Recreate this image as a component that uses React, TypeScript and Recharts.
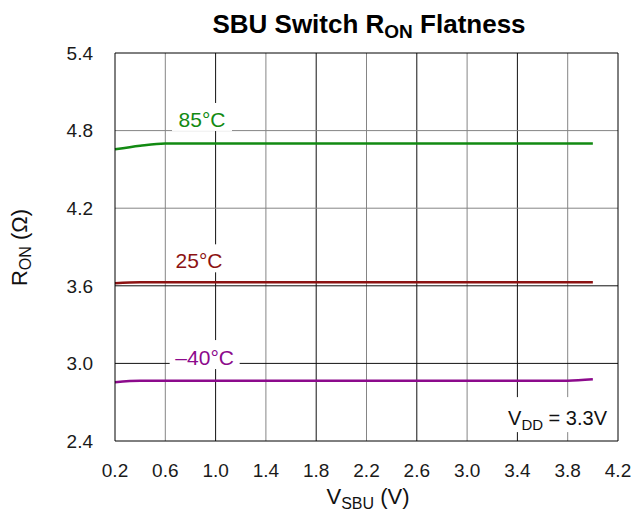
import React from 'react';
import { LineChart, Line, XAxis, YAxis, ReferenceLine, ReferenceDot } from 'recharts';

const V_SBU = [0.2, 0.4, 0.6, 0.8, 1.0, 1.2, 1.4, 1.6, 1.8, 2.0, 2.2, 2.4, 2.6, 2.8, 3.0, 3.2, 3.4, 3.6, 3.8, 4.0];
const RON_85C = [4.655, 4.683, 4.7, 4.7, 4.7, 4.7, 4.7, 4.7, 4.7, 4.7, 4.7, 4.7, 4.7, 4.7, 4.7, 4.7, 4.7, 4.7, 4.7, 4.7];
const RON_25C = [3.62, 3.628, 3.628, 3.628, 3.628, 3.628, 3.628, 3.628, 3.628, 3.628, 3.628, 3.628, 3.628, 3.628, 3.628, 3.628, 3.628, 3.628, 3.628, 3.628];
const RON_M40C = [2.855, 2.865, 2.865, 2.865, 2.865, 2.865, 2.865, 2.865, 2.865, 2.865, 2.865, 2.865, 2.865, 2.865, 2.865, 2.865, 2.865, 2.865, 2.866, 2.877];

const X_TICKS = [0.2, 0.6, 1.0, 1.4, 1.8, 2.2, 2.6, 3.0, 3.4, 3.8, 4.2];
const Y_TICKS = [2.4, 3.0, 3.6, 4.2, 4.8, 5.4];

const data = V_SBU.map((v, i) => ({ v, t85: RON_85C[i], t25: RON_25C[i], tm40: RON_M40C[i] }));

const FONT = '"Liberation Sans", Arial, sans-serif';
const GREEN = '#128a12';
const RED = '#8c1212';
const PURPLE = '#8c0a8c';
const GRID_DARK = '#111';
const GRID_LIGHT = '#858585';

// label with a white box behind it, so the grid is cut out like in the original
const tag = (label: React.ReactNode, color: string, halfW: number, top: number, bottom: number, fs: number) =>
  (p: any) => (
    <g>
      <rect x={p.cx - halfW} y={p.cy - top} width={halfW * 2} height={top + bottom} fill="#fff" />
      <text x={p.cx} y={p.cy + fs * 0.36} textAnchor="middle" fontSize={fs} fill={color} fontFamily={FONT}>
        {label}
      </text>
    </g>
  );

export default function App() {
  const tickStyle = { fontSize: 19, fill: '#1a1a1a', fontFamily: FONT };
  return (
    <div style={{ position: 'absolute', left: 0, top: 0, width: 635, height: 514, background: '#fff' }}>
      <LineChart width={635} height={514} data={data} margin={{ top: 53, right: 17, left: 0, bottom: 0 }}>
        <XAxis
          dataKey="v"
          type="number"
          domain={[0.2, 4.2]}
          ticks={X_TICKS}
          interval={0}
          tickFormatter={(v: number) => v.toFixed(1)}
          tick={tickStyle}
          tickLine={false}
          tickSize={0}
          tickMargin={23}
          axisLine={{ stroke: '#000', strokeWidth: 1 }}
          height={73}
        />
        <YAxis
          type="number"
          domain={[2.4, 5.4]}
          ticks={Y_TICKS}
          interval={0}
          tickFormatter={(v: number) => v.toFixed(1)}
          tick={tickStyle}
          tickLine={false}
          tickSize={0}
          tickMargin={22}
          axisLine={{ stroke: '#000', strokeWidth: 1 }}
          width={115}
        />
        {X_TICKS.slice(1, -1).map((x, i) => (
          <ReferenceLine key={'vx' + x} x={x} stroke={i % 2 === 0 ? GRID_LIGHT : GRID_DARK} strokeWidth={1} />
        ))}
        {Y_TICKS.slice(1, -1).map((y) => (
          <ReferenceLine key={'hy' + y} y={y} stroke={y > 4 ? GRID_LIGHT : GRID_DARK} strokeWidth={1} />
        ))}
        <ReferenceLine x={4.2} stroke="#000" strokeWidth={1} />
        <ReferenceLine y={5.4} stroke="#000" strokeWidth={1} />

        <ReferenceDot x={0.892} y={4.89} r={1} shape={tag('85°C', GREEN, 30, 16, 12, 21)} />
        <ReferenceDot x={0.868} y={3.797} r={1} shape={tag('25°C', RED, 30, 16, 12, 21)} />
        <ReferenceDot x={0.913} y={3.049} r={1} shape={tag('–40°C', PURPLE, 35, 17, 12, 21)} />
        <ReferenceDot
          x={3.719}
          y={2.577}
          r={1}
          shape={tag(
            <>
              V<tspan fontSize={15} dy={5}>DD</tspan>
              <tspan dy={-5}> = 3.3V</tspan>
            </>,
            '#111',
            54,
            21,
            14,
            20
          )}
        />

        <Line type="monotone" dataKey="t85" stroke={GREEN} strokeWidth={2.5} dot={false} isAnimationActive={false} />
        <Line type="monotone" dataKey="t25" stroke={RED} strokeWidth={2.5} dot={false} isAnimationActive={false} />
        <Line type="monotone" dataKey="tm40" stroke={PURPLE} strokeWidth={2.5} dot={false} isAnimationActive={false} />
      </LineChart>

      <svg width={635} height={514} style={{ position: 'absolute', left: 0, top: 0, pointerEvents: 'none' }}>
        <text x={369} y={33} textAnchor="middle" fontSize={26} fontWeight="bold" fill="#000" fontFamily={FONT}>
          SBU Switch R<tspan fontSize={19} dy={5}>ON</tspan>
          <tspan dy={-5}> Flatness</tspan>
        </text>
        <text x={368} y={504} textAnchor="middle" fontSize={22} fill="#111" fontFamily={FONT}>
          V<tspan fontSize={16} dy={5}>SBU</tspan>
          <tspan dy={-5}> (V)</tspan>
        </text>
        <text
          transform="translate(27,247.5) rotate(-90)"
          textAnchor="middle"
          fontSize={22}
          fill="#111"
          fontFamily={FONT}
        >
          R<tspan fontSize={16} dy={4}>ON</tspan>
          <tspan dy={-4}> (Ω)</tspan>
        </text>
      </svg>
    </div>
  );
}
